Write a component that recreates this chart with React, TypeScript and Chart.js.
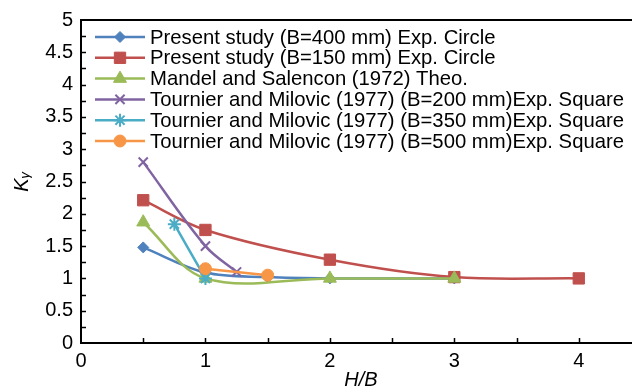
import React, { useEffect, useRef } from 'react';
import { Chart, registerables } from 'chart.js';
import { drawPoint } from 'chart.js/helpers';
Chart.register(...registerables);

const seriesNames = [
  'Present study (B=400 mm) Exp. Circle',
  'Present study (B=150 mm) Exp. Circle',
  'Mandel and Salencon (1972) Theo.',
  'Tournier and Milovic (1977) (B=200 mm)Exp. Square',
  'Tournier and Milovic (1977) (B=350 mm)Exp. Square',
  'Tournier and Milovic (1977) (B=500 mm)Exp. Square',
];

const blueX = [0.5, 1, 1.5, 2, 3];
const blueY = [1.48, 1.09, 1.02, 1.0, 1.0];
const redX = [0.5, 1, 2, 3, 4];
const redY = [2.21, 1.75, 1.29, 1.02, 1.0];
const greenX = [0.5, 1, 2, 3];
const greenY = [1.87, 1.0, 1.0, 1.0];
const purpleX = [0.5, 1, 1.25];
const purpleY = [2.8, 1.5, 1.1];
const cyanX = [0.75, 1];
const cyanY = [1.84, 1.0];
const orangeX = [1, 1.5];
const orangeY = [1.15, 1.05];

const xLabels = [0, 1, 2, 3, 4];
const xMinorStep = 0.5;
const yLabelStep = 0.5;
const yMinorStep = 0.25;

const colors = ['#4F81BD', '#C0504D', '#9BBB59', '#8064A2', '#4BACC6', '#F79646'];
const styles = ['rectRot', 'rect', 'triangle', 'crossRot', 'star', 'circle'];
const radii = [5.5, 8, 7.5, 6.5, 6.5, 6];

const FONT = '"Liberation Sans", Arial, sans-serif';
const FS = 20;
const LEGEND_FS = 20.3;

function pts(xs: number[], ys: number[]) {
  return xs.map((x, i) => ({ x, y: ys[i] }));
}

const frameAndTicks = {
  id: 'frameAndTicks',
  afterDraw(chart: any) {
    const { ctx, chartArea } = chart;
    const xs = chart.scales.x;
    const ys = chart.scales.y;
    ctx.save();
    ctx.strokeStyle = '#000';
    ctx.lineWidth = 1.5;
    for (let v = xMinorStep; v < xs.max; v += xMinorStep) {
      const px = Math.round(xs.getPixelForValue(v)) + 0.5;
      ctx.beginPath();
      ctx.moveTo(px, chartArea.bottom);
      ctx.lineTo(px, chartArea.bottom - 5);
      ctx.stroke();
    }
    for (let v = yMinorStep; v < ys.max - 1e-9; v += yMinorStep) {
      const py = Math.round(ys.getPixelForValue(v)) + 0.5;
      ctx.beginPath();
      ctx.moveTo(chartArea.left, py);
      ctx.lineTo(chartArea.left + 5, py);
      ctx.stroke();
    }
    ctx.lineWidth = 2;
    ctx.strokeRect(chartArea.left, chartArea.top, chartArea.right - chartArea.left, chartArea.bottom - chartArea.top);
    ctx.restore();
  },
};

const customLegend = {
  id: 'customLegend',
  afterDraw(chart: any) {
    const { ctx, chartArea } = chart;
    ctx.save();
    const x0 = chartArea.left + 14;
    const y0 = chartArea.top + 17;
    chart.data.datasets.forEach((ds: any, i: number) => {
      const y = y0 + i * 20.8;
      ctx.strokeStyle = ds.borderColor;
      ctx.lineWidth = 2.5;
      ctx.beginPath();
      ctx.moveTo(x0, y);
      ctx.lineTo(x0 + 50, y);
      ctx.stroke();
      ctx.fillStyle = ds.pointBackgroundColor;
      ctx.strokeStyle = ds.pointBorderColor;
      ctx.lineWidth = ds.pointBorderWidth;
      drawPoint(ctx, { pointStyle: ds.pointStyle, radius: ds.pointRadius, rotation: 0, borderWidth: ds.pointBorderWidth }, x0 + 25, y);
      ctx.fillStyle = '#000';
      ctx.font = `${LEGEND_FS}px ${FONT}`;
      ctx.textBaseline = 'middle';
      ctx.textAlign = 'left';
      ctx.fillText(ds.label, x0 + 55, y + 1);
    });
    ctx.restore();
  },
};

export default function App() {
  const ref = useRef<HTMLCanvasElement | null>(null);
  useEffect(() => {
    document.body.style.margin = '0';
    document.body.style.overflow = 'hidden';
    const data = [pts(blueX, blueY), pts(redX, redY), pts(greenX, greenY), pts(purpleX, purpleY), pts(cyanX, cyanY), pts(orangeX, orangeY)];
    const datasets = data.map((d, i) => {
      const lineLike = styles[i] === 'crossRot' || styles[i] === 'star';
      return {
        label: seriesNames[i],
        data: d,
        borderColor: colors[i],
        backgroundColor: colors[i],
        pointBackgroundColor: colors[i],
        pointBorderColor: colors[i],
        pointBorderWidth: lineLike ? 2 : 1,
        pointStyle: styles[i],
        pointRadius: radii[i],
        borderWidth: 2.5,
        tension: 0.35,
        order: 6 - i,
      };
    });
    const chart = new Chart(ref.current as HTMLCanvasElement, {
      type: 'line',
      data: { datasets } as any,
      options: {
        animation: false,
        responsive: false,
        maintainAspectRatio: false,
        layout: { padding: { top: 18, right: 9, left: 0, bottom: 0 } },
        plugins: { legend: { display: false }, tooltip: { enabled: false } },
        scales: {
          x: {
            type: 'linear',
            min: 0,
            max: 4.5,
            grid: { display: false, drawTicks: false },
            border: { display: false },
            afterBuildTicks: (scale: any) => {
              scale.ticks = xLabels.map((v) => ({ value: v }));
            },
            afterFit: (scale: any) => {
              scale.height = 49;
            },
            ticks: { color: '#000', font: { family: FONT, size: FS }, padding: 6, maxRotation: 0 },
            title: { display: true, text: 'H/B', color: '#000', font: { family: FONT, size: FS, style: 'italic' }, padding: { top: 0, bottom: 0 } },
          },
          y: {
            min: 0,
            max: 5,
            grid: { display: false, drawTicks: false },
            border: { display: false },
            afterFit: (scale: any) => {
              scale.width = 81;
            },
            ticks: { stepSize: yLabelStep, color: '#000', font: { family: FONT, size: FS }, padding: 8, callback: (v: any) => `${Number(v)}` },
            title: { display: true, text: 'Kᵧ', color: '#000', font: { family: FONT, size: FS, style: 'italic' }, padding: { top: 10, bottom: 0 } },
          },
        },
      },
      plugins: [frameAndTicks, customLegend],
    } as any);
    return () => chart.destroy();
  }, []);
  return (
    <div style={{ position: 'fixed', left: 0, top: 0, width: 650, height: 392 }}>
      <canvas ref={ref} width={650} height={392} style={{ width: 650, height: 392 }} />
    </div>
  );
}
